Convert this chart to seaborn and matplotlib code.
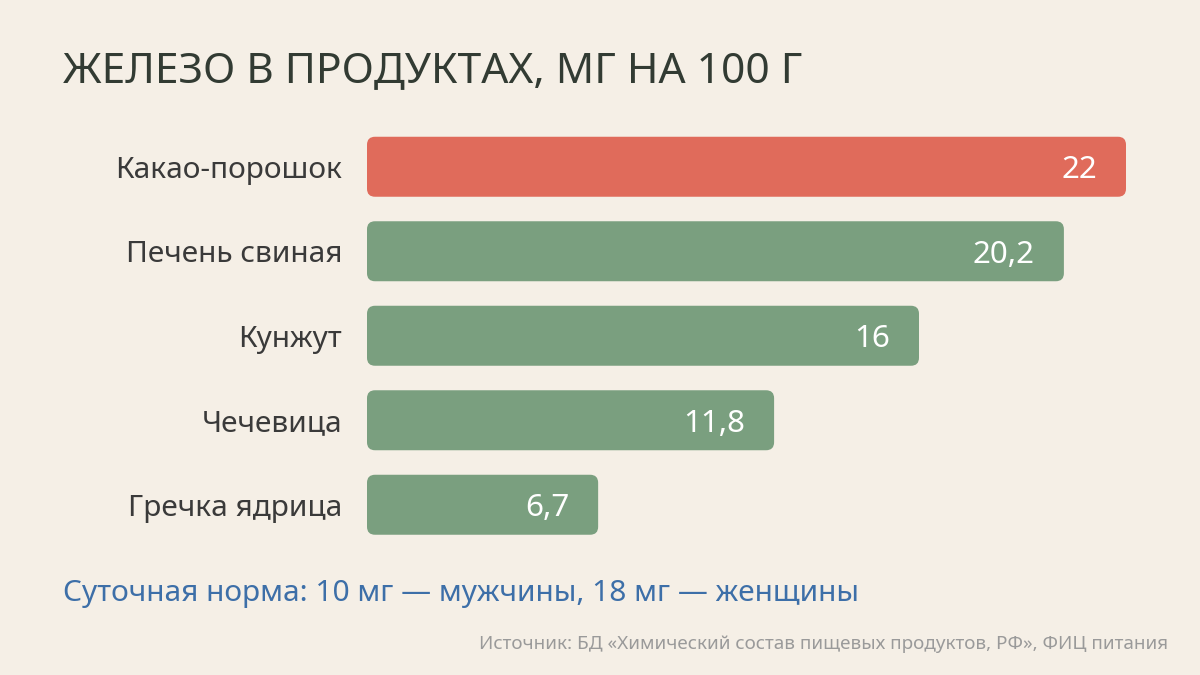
import matplotlib.pyplot as plt
import seaborn as sns
import pandas as pd
from matplotlib.patches import FancyBboxPatch

# data
products = ['Какао-порошок', 'Печень свиная', 'Кунжут', 'Чечевица', 'Гречка ядрица']
iron_mg = [22, 20.2, 16, 11.8, 6.7]
value_labels = ['22', '20,2', '16', '11,8', '6,7']
highlight = ['Какао-порошок']

title = 'ЖЕЛЕЗО В ПРОДУКТАХ, МГ НА 100 Г'
note = 'Суточная норма: 10 мг — мужчины, 18 мг — женщины'
source = 'Источник: БД «Химический состав пищевых продуктов, РФ», ФИЦ питания'

colors = {
    'bg': '#f5efe6',
    'red': '#e06b5b',
    'green': '#7a9f7f',
    'title': '#323b33',
    'label': '#3a3a3a',
    'note': '#3d6fa8',
    'source': '#9a9a9a',
}

sns.set_theme(style='white')
plt.rcParams['font.family'] = ['Noto Sans', 'DejaVu Sans']

df = pd.DataFrame({'product': products, 'iron': iron_mg})
palette = {p: (colors['red'] if p in highlight else colors['green']) for p in products}

fig = plt.figure(figsize=(12, 6.75), dpi=100, facecolor=colors['bg'])
# axes placed in pixels: x 367..1168, y 124..547 (top origin)
ax = fig.add_axes([367 / 1200, 1 - 547 / 675, 801 / 1200, 422.5 / 675])
ax.set_facecolor(colors['bg'])

sns.barplot(data=df, x='iron', y='product', hue='product', palette=palette,
            order=products, width=0.71, saturation=1, legend=False, ax=ax)

xmax = 801 / 34.5
ax.set_xlim(0, xmax)
ax.set_ylim(4.5, -0.5)

# px per data unit to keep corners round
px_x = 801 / xmax
px_y = 422.5 / 5
radius_px = 8

for patch in list(ax.patches):
    x0, y0 = patch.get_x(), patch.get_y()
    w, h = patch.get_width(), patch.get_height()
    fc = patch.get_facecolor()
    patch.remove()
    ax.add_patch(FancyBboxPatch(
        (x0, y0), w, h,
        boxstyle=f'round,pad=0,rounding_size={radius_px / px_x}',
        mutation_aspect=px_x / px_y, facecolor=fc, edgecolor='none'))

for i, (v, lab) in enumerate(zip(iron_mg, value_labels)):
    ax.text(v - 29 / px_x, i, lab, ha='right', va='center_baseline',
            color='white', fontsize=22.5)

ax.set_xlabel('')
ax.set_ylabel('')
ax.set_xticks([])
ax.tick_params(axis='y', length=0, pad=18, labelsize=21.5, labelcolor=colors['label'])
sns.despine(ax=ax, left=True, bottom=True)

fig.text(63 / 1200, 1 - 71 / 675, title, ha='left', va='center',
         fontsize=30.6, color=colors['title'])
fig.text(63 / 1200, 1 - 593 / 675, note, ha='left', va='center',
         fontsize=21.5, color=colors['note'])
fig.text(1168 / 1200, 1 - 644 / 675, source, ha='right', va='center',
         fontsize=13.6, color=colors['source'])

fig.savefig('out.png', dpi=100, facecolor=colors['bg'])
